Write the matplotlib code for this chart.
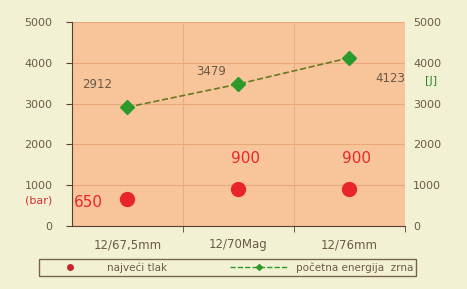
import matplotlib
matplotlib.use("Agg")
import matplotlib.pyplot as plt
from matplotlib.lines import Line2D

# Podaci
kategorije = ["12/67,5mm", "12/70Mag", "12/76mm"]
tlak = [650, 900, 900]           # bar
energija = [2912, 3479, 4123]    # J
oznake_tlak = ["650", "900", "900"]
oznake_energija = ["2912", "3479", "4123"]
ticks = [0, 1000, 2000, 3000, 4000, 5000]

bg = "#f3f1d4"
plot_bg = "#f8c49a"
txt = "#6a5a48"

fig = plt.figure(figsize=(4.67, 2.89), dpi=100, facecolor=bg)
ax = fig.add_axes([0.154, 0.218, 0.713, 0.706])
ax.set_facecolor(plot_bg)
x = list(range(len(kategorije)))

ax.set_xlim(-0.5, 2.5)
ax.set_ylim(0, 5000)
ax.set_yticks(ticks)
ax.set_yticklabels([str(t) for t in ticks], fontsize=8, color=txt)
ax.set_xticks(x)
ax.set_xticklabels(kategorije, fontsize=8.5, color=txt)
ax.set_xticks([0.5, 1.5, 2.5], minor=True)
ax.tick_params(axis="x", which="major", length=0, pad=9)
ax.tick_params(axis="x", which="minor", length=4, color="#5a4030")
ax.tick_params(axis="y", length=4, color="#5a4030", pad=10)
for t in ticks[1:]:
    ax.axhline(t, color="#e8a878", lw=0.8, zorder=0)
for b in [0.5, 1.5]:
    ax.axvline(b, color="#e8b080", lw=0.8, zorder=0)
for s in ["top", "right"]:
    ax.spines[s].set_visible(False)
ax.spines["left"].set_color("#5a4030")
ax.spines["bottom"].set_color("#5a4030")

ax2 = ax.twinx()
ax2.set_ylim(0, 5000)
ax2.set_yticks(ticks)
ax2.set_yticklabels([str(t) for t in ticks], fontsize=8, color=txt)
ax2.tick_params(axis="y", length=0, pad=6)
for s in ax2.spines.values():
    s.set_visible(False)

ax.scatter(x, tlak, s=100, color="#e8262a", zorder=4)
ax2.plot(x, energija, ls="--", color="#6a7a20", lw=1.2, marker="D", ms=7,
         mfc="#2a9a2a", mec="#2a9a2a", zorder=5)

ax.text(x[0] - 0.22, tlak[0] - 80, oznake_tlak[0], color="#e8262a",
        fontsize=11, ha="right", va="center")
for i in [1, 2]:
    ax.text(x[i] + 0.06, tlak[i] + 750, oznake_tlak[i], color="#e8262a",
            fontsize=11, ha="center", va="center")
ax2.text(x[0] - 0.27, energija[0] + 560, oznake_energija[0], color=txt,
         fontsize=8.5, ha="center", va="center")
ax2.text(x[1] - 0.25, energija[1] + 300, oznake_energija[1], color=txt,
         fontsize=8.5, ha="center", va="center")
ax2.text(x[2] + 0.37, energija[2] - 500, oznake_energija[2], color=txt,
         fontsize=8.5, ha="center", va="center")

fig.text(0.112, 0.305, "(bar)", color="#d03030", fontsize=8, ha="right", va="center")
fig.text(0.922, 0.72, "[J]", color="#2a8a2a", fontsize=8, ha="center", va="center")

handles = [
    Line2D([], [], ls="none", marker="o", color="#c8262a", ms=4),
    Line2D([], [], ls="--", color="#2a9a2a", lw=1, marker="D", ms=3),
]
leg = fig.legend(handles, ["najveći tlak", "početna energija  zrna"], loc="lower center",
                 bbox_to_anchor=(0.487, 0.045), ncol=2, fontsize=7.5, frameon=True,
                 fancybox=False, edgecolor="#5a4030", facecolor=bg,
                 handlelength=5.5, handletextpad=0.8, columnspacing=6,
                 borderpad=0.3, borderaxespad=0)
for t in leg.get_texts():
    t.set_color(txt)

fig.savefig("out.png", dpi=100, facecolor=bg)
